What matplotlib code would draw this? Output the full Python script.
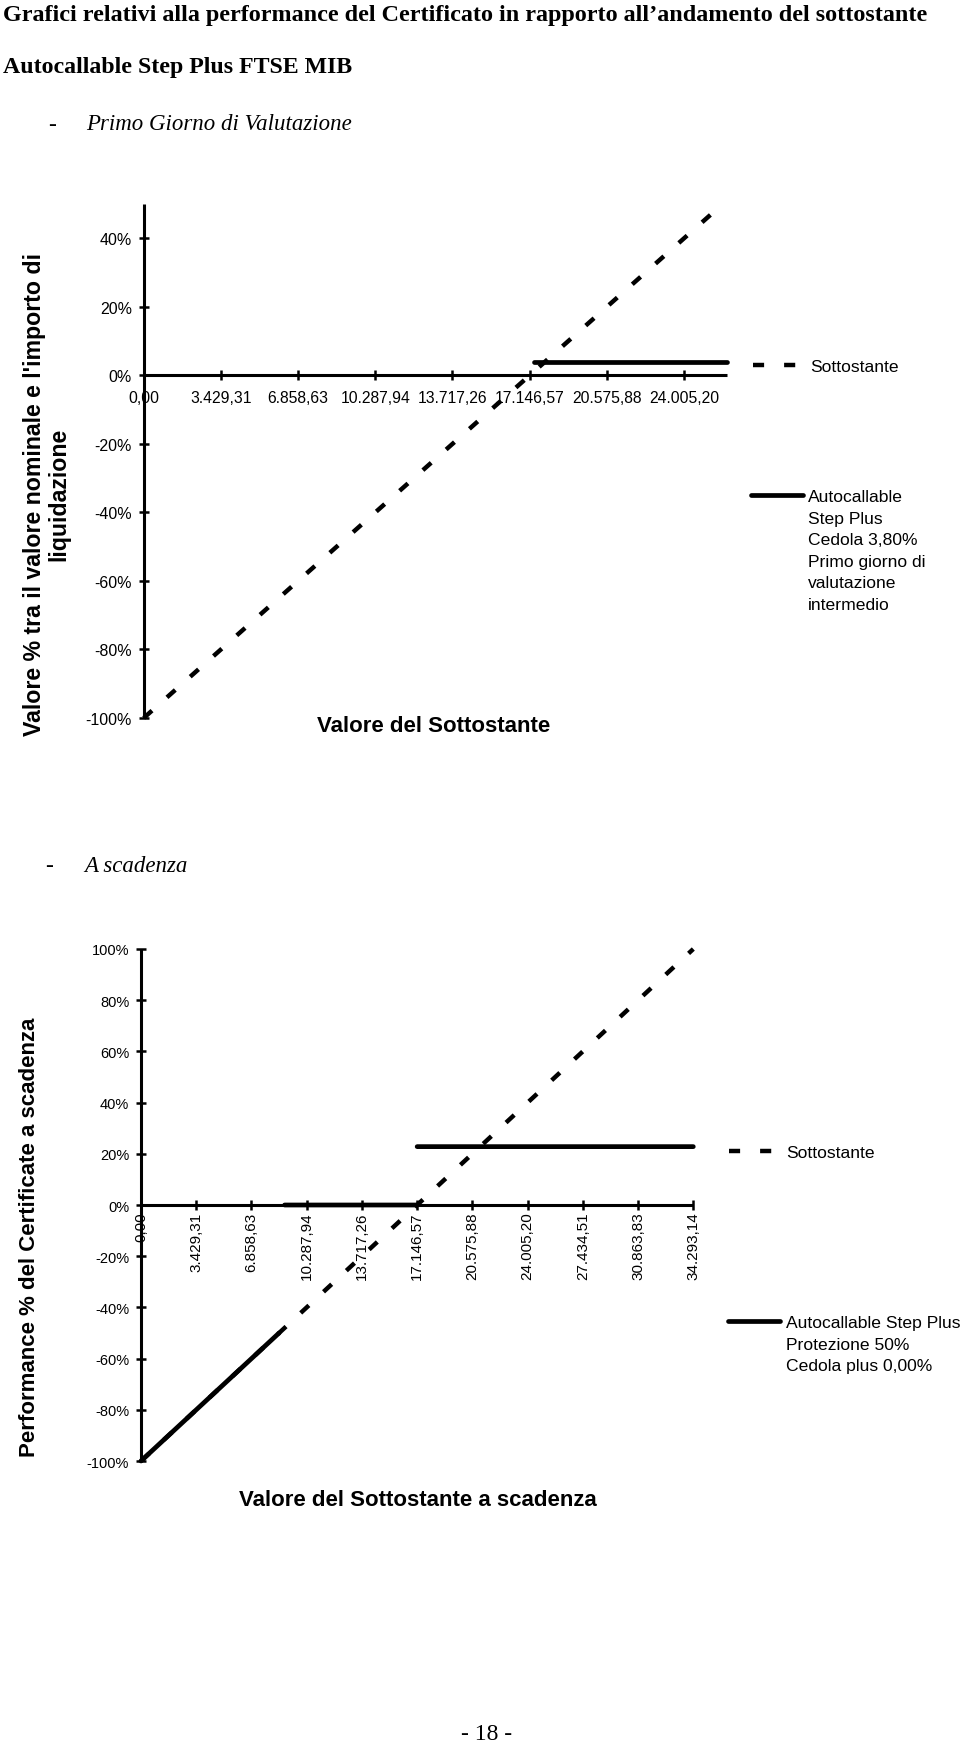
import numpy as np
import matplotlib
matplotlib.use("Agg")
import matplotlib.pyplot as plt

plt.rcParams["font.family"] = ["Liberation Sans", "DejaVu Sans"]

W, H = 960, 1758
nan = np.nan

# --- Primo Giorno di Valutazione ---
und1_x = [0, 17146.57, 25719.86]
und1_y = [-1.00, 0.00, 0.50]
cert1_x = [17318.04, 25900.00]
cert1_y = [0.038, 0.038]
x1_ticks = [0, 3429.31, 6858.63, 10287.94, 13717.26, 17146.57, 20575.88, 24005.20]
x1_labels = ["0,00", "3.429,31", "6.858,63", "10.287,94", "13.717,26",
             "17.146,57", "20.575,88", "24.005,20"]
y1_ticks = [-1.0, -0.8, -0.6, -0.4, -0.2, 0.0, 0.2, 0.4]
y1_labels = ["-100%", "-80%", "-60%", "-40%", "-20%", "0%", "20%", "40%"]

# --- A scadenza ---
und2_x = [0, 17146.57, 34293.14]
und2_y = [-1.00, 0.00, 1.00]
cert2_x = [0, 8573.29, nan, 8916.22, 17146.57, nan, 17146.57, 34293.14]
cert2_y = [-1.00, -0.50, nan, 0.00, 0.00, nan, 0.228, 0.228]
x2_ticks = [0, 3429.31, 6858.63, 10287.94, 13717.26, 17146.57, 20575.88,
            24005.20, 27434.51, 30863.83, 34293.14]
x2_labels = ["0,00", "3.429,31", "6.858,63", "10.287,94", "13.717,26", "17.146,57",
             "20.575,88", "24.005,20", "27.434,51", "30.863,83", "34.293,14"]
y2_ticks = [-1.0, -0.8, -0.6, -0.4, -0.2, 0.0, 0.2, 0.4, 0.6, 0.8, 1.0]
y2_labels = ["-100%", "-80%", "-60%", "-40%", "-20%", "0%", "20%", "40%",
             "60%", "80%", "100%"]

DASH = (2.5, 4.5)
LEG_FS = 12.6

fig = plt.figure(figsize=(W / 100, H / 100), dpi=100)


def px_axes(left, right, top, bottom):
    return fig.add_axes([left / W, 1 - bottom / H, (right - left) / W, (bottom - top) / H])


def style_axes(ax):
    for s in ("top", "right"):
        ax.spines[s].set_visible(False)
    ax.spines["bottom"].set_position(("data", 0))
    for s in ("left", "bottom"):
        ax.spines[s].set_linewidth(2.2)
        ax.spines[s].set_capstyle("butt")
    ax.tick_params(direction="inout", length=7, width=1.8, colors="black")
    ax.patch.set_alpha(0)


def add_legend(handle, label, x_px, y_px, multi=False):
    loc = "upper left" if multi else "center left"
    leg = fig.legend([handle], [label], loc=loc, bbox_to_anchor=(x_px / W, 1 - y_px / H),
                     frameon=False, borderpad=0, borderaxespad=0, handlelength=52 / (LEG_FS * 100 / 72),
                     handletextpad=0.3, prop={"size": LEG_FS, "family": "Liberation Sans"})
    if multi:
        leg.get_texts()[0].set_linespacing(1.55)
        # keep the key line level with the first text line
        try:
            for col in leg._legend_handle_box.get_children():
                for row in col.get_children():
                    row.align = "top"
        except AttributeError:
            pass
    return leg


# header texts
serif = ["Liberation Serif", "DejaVu Serif"]
fig.text(3 / W, 1 - 16 / H,
         "Grafici relativi alla performance del Certificato in rapporto all\u2019andamento del sottostante",
         ha="left", va="center", fontsize=17.4, fontweight="bold", family=serif)
fig.text(3 / W, 1 - 67 / H, "Autocallable Step Plus FTSE MIB",
         ha="left", va="center", fontsize=17.2, fontweight="bold", family=serif)
fig.text(48 / W, 1 - 125 / H, "-", ha="left", va="center", fontsize=17, family=serif)
fig.text(86 / W, 1 - 125 / H, "Primo Giorno di Valutazione",
         ha="left", va="center", fontsize=16.5, style="italic", family=serif)
fig.text(45 / W, 1 - 867 / H, "-", ha="left", va="center", fontsize=17, family=serif)
fig.text(84 / W, 1 - 867 / H, "A scadenza",
         ha="left", va="center", fontsize=16.5, style="italic", family=serif)
fig.text(487 / W, 1 - 1735 / H, "- 18 -", ha="center", va="center", fontsize=17, family=serif)

# chart 1
ax1 = px_axes(143.7, 727.3, 205, 719)
style_axes(ax1)
l_und1, = ax1.plot(und1_x, und1_y, color="black", lw=3.2, dashes=DASH, clip_on=False)
l_cert1, = ax1.plot(cert1_x, cert1_y, color="black", lw=3.4, solid_capstyle="round", clip_on=False)
ax1.set_xlim(0, 25925)
ax1.set_ylim(-1.0, 0.5)
ax1.set_xticks(x1_ticks, x1_labels, fontsize=11.3)
ax1.set_yticks(y1_ticks, y1_labels, fontsize=11.5)
ax1.tick_params(axis="x", pad=7)
ax1.tick_params(axis="y", pad=5)
fig.text(434 / W, 1 - 727 / H, "Valore del Sottostante", ha="center", va="center",
         fontsize=16, fontweight="bold")
fig.text(46.5 / W, 1 - 494 / H,
         "Valore % tra il valore nominale e l'importo di\nliquidazione",
         rotation=90, ha="center", va="center", multialignment="center",
         fontsize=16.7, fontweight="bold", linespacing=1.05)
add_legend(l_und1, "Sottostante", 753.3, 367.7)
add_legend(l_cert1, "Autocallable\nStep Plus\nCedola 3,80%\nPrimo giorno di\nvalutazione\nintermedio",
           750.7, 490, multi=True)

# chart 2
ax2 = px_axes(141, 693.3, 950, 1462)
style_axes(ax2)
l_und2, = ax2.plot(und2_x, und2_y, color="black", lw=3.2, dashes=DASH, clip_on=False)
l_cert2, = ax2.plot(cert2_x, cert2_y, color="black", lw=3.4, solid_capstyle="round", clip_on=False)
ax2.set_xlim(0, 34293.14)
ax2.set_ylim(-1.0, 1.0)
ax2.set_xticks(x2_ticks, x2_labels, fontsize=11, rotation=90)
ax2.set_yticks(y2_ticks, y2_labels, fontsize=10.5)
ax2.tick_params(axis="x", pad=1)
ax2.tick_params(axis="y", pad=5)
fig.text(418 / W, 1 - 1500 / H, "Valore del Sottostante a scadenza", ha="center", va="center",
         fontsize=16, fontweight="bold")
fig.text(30 / W, 1 - 1237 / H, "Performance % del Certificate a scadenza",
         rotation=90, ha="center", va="center", fontsize=16, fontweight="bold")
add_legend(l_und2, "Sottostante", 729.3, 1153.3)
add_legend(l_cert2, "Autocallable Step Plus\nProtezione 50%\nCedola plus 0,00%",
           728.3, 1316, multi=True)

fig.savefig("out.png", dpi=100)
